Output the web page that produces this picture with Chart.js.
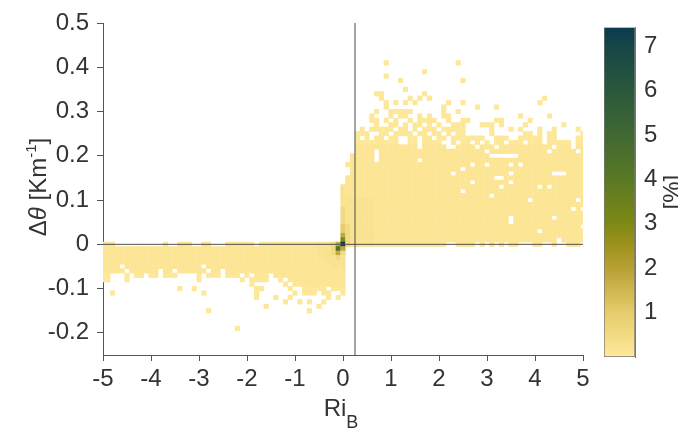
<!DOCTYPE html>
<html><head><meta charset="utf-8">
<script src="https://cdn.jsdelivr.net/npm/chart.js@4"></script>
<style>
html,body{margin:0;padding:0;background:#fff;}
#wrap{position:relative;width:678px;height:428px;overflow:hidden;}
#wrap canvas{position:absolute;left:0;top:0;}
</style></head><body>
<div id="wrap"><canvas id="main" width="678" height="428"></canvas><canvas id="cbar" width="678" height="428"></canvas></div>
<script>
// ---- data ----
const xTicks = [-5,-4,-3,-2,-1,0,1,2,3,4,5];
const yTicks = [-0.2,-0.1,0,0.1,0.2,0.3,0.4,0.5];
const cbarTicks = [1,2,3,4,5,6,7];
const cbarMax = 7.42;
const riCritical = 0.25;
// frequency [%] for each level digit used in the rows below
const levelValues = [0, 0.03, 0.1, 0.22, 0.5, 1.0, 1.8, 3.0, 4.5, 7.4];
// rows: [Δθ in 0.01 K/m, default level, runs of Ri_B in 0.1 units ("a..b" or "a", optional "@level")]
const upperRows = [
 [41,1,"9,24"],
 [39,1,"17"],
 [38,1,"9"],
 [37,1,"12,25"],
 [35,1,"13"],
 [34,1,"7..8,17"],
 [33,1,"8,14,16,18,42"],
 [32,1,"9,11,13,15,22,25,41"],
 [31,1,"9,21,28,32"],
 [30,1,"7,10..14,21,24"],
 [29,1,"6,10,12..13,16,18,21..22,37,43"],
 [28,1,"6..7,9,11,14,16..19,22,25..26,32..33,39"],
 [27,1,"7,10..11,13,15..16,18,20,23..25,29..31,33,38,46"],
 [26,1,"4,6..10,12..13,15,17..19,21..25,31,35,37,41,44,49"],
 [25,1,"3..5,8..9,11..14,16..17,19..20,22,24..25,31,38..39,41,43..44,50"],
 [24,1,"3,5,7..8,10..11,14..15,17..18,20..21,23..29,32..34,37..41,43..44,49..50"],
 [23,1,"3..11,14..15,17..20,23,25..26,28,30,32..33,35..37,39..41,43..47,49..50"],
 [22,2,"3..15,17..21,24..27,29..31,33..43,45..47,49..50"],
 [21,2,"3..6,8..29,31..42,44..48,50"],
 [20,2,"2..6,8..30,37..50"]
];
const positiveRows = [
 [19,2,"2..6,8..15,17..50"],
 [18,2,"1..26,28..29,31..34,36,38..50"],
 [17,2,"2..24,26..50"],
 [16,2,"2..22,24..34,36..43,47..50"],
 [15,2,"1..31,34..50"],
 [14,2,"1..26,28..34,36..50"],
 [13,2,"0@3,1..32,34..40,42,44..50"],
 [12,2,"0@3,1..24,26..50"],
 [11,2,"0@3,1..30,32..50"],
 [10,2,"0@3,1..6@3,7..38,40..48,50"],
 [9,2,"0@3,1..6@3,7..50"],
 [8,2,"0@4,1..6@3,7..47,49"],
 [7,2,"0@4,1..6@3,7..50"],
 [6,2,"0@4,1..6@3,7..34,36..43,45..50"],
 [5,2,"0@4,1..6@3,7..34,36..50"],
 [4,2,"0@5,1@4,2..6@3,7..49"],
 [3,2,"0@5,1@4,2..6@3,7..40,42..50"],
 [2,2,"0@6,1@4,2..6@3,7..50"],
 [1,2,"0@7,1@4,2..6@3,7..44,46..50"],
 [0,2,"-50..-48,-37,-34..-32,-29..-28,-24..-19,-17..-6,-5..-3@3,-2@4,-1@6,0@9,1@4,2..6@3,7..21,24..27,29,31,33,35..36,40..41,44,47..49"]
];
const negativeRows = [
 [-1,2,"-50..-6,-5..-3@3,-2@4,-1@8,0@6"],
 [-2,2,"-50..-6,-5..-3@3,-2@4,-1@6,0@4"],
 [-3,2,"-50..-5,-4..-2@3,-1@4,0@3"],
 [-4,2,"-50..-4,-3..0@3"],
 [-5,2,"-50..-47,-45..-30,-28..-3,-2..0@3"],
 [-6,2,"-50..-46,-44..-39,-37..-36,-34..-29,-27..-26,-24..0"],
 [-7,1,"-50..-49,-45,-43..-42,-40..-39,-37..-35,-30,-28..-26,-24..-22,-20,-18..-16,-14..0@2"],
 [-8,1,"-50..-49,-45,-30,-21,-19..-16,-13,-11..0@2"],
 [-9,1,"-19,-12,-10..0@2"],
 [-10,1,"-34,-31,-18..-17,-11,-8..-4,-2..0"],
 [-11,1,"-48,-29,-18,-10,-8..-6,-4..-3,0"],
 [-12,1,"-18,-14,-11,-3,-1"],
 [-13,1,"-12,-9,-7,-4"],
 [-14,1,"-16,-5"],
 [-15,1,"-28,-7"],
 [-19,1,"-22"]
];
// colour map of the colour bar: [value %, rgb]
const cmapStops = [[0,[254,232,154]],[1,[230,204,108]],[2,[184,160,52]],[2.5,[158,146,28]],[3,[126,137,20]],[4,[90,121,36]],[5,[64,104,50]],[6,[42,88,60]],[7,[22,70,70]],[7.42,[10,58,78]]];

// ---- helpers ----
const ink = '#333333';
const axisColor = '#555555';
const fontFam = '"Liberation Sans", Arial, Helvetica, sans-serif';
const tickFont = {family: fontFam, size: 24};

function parseRows(rows){
  const pts = [];
  rows.forEach(([r, lvl, runs]) => {
    runs.split(',').forEach(tok => {
      const [span, l] = tok.trim().split('@');
      const level = l ? +l : lvl;
      const ab = span.includes('..') ? span.split('..').map(Number) : [+span, +span];
      for (let t = ab[0]; t <= ab[1]; t++) pts.push({x: t/10, y: r/100, v: levelValues[level]});
    });
  });
  return pts;
}
const cells = [].concat(parseRows(upperRows), parseRows(positiveRows), parseRows(negativeRows));

function cmap(v){
  for (let i = 1; i < cmapStops.length; i++){
    const [v1, c1] = cmapStops[i], [v0, c0] = cmapStops[i-1];
    if (v <= v1 || i === cmapStops.length - 1){
      const f = Math.max(0, Math.min(1, (v - v0)/(v1 - v0)));
      return 'rgb(' + c0.map((c, k) => Math.round(c + (c1[k]-c)*f)).join(',') + ')';
    }
  }
}
function drawRich(ctx, segs, x, y, rot){
  ctx.save(); ctx.translate(x, y); ctx.rotate(rot);
  let w = 0;
  segs.forEach(s => { ctx.font = s.font; s.w = ctx.measureText(s.t).width; w += s.w; });
  let cx = -w/2; ctx.fillStyle = ink; ctx.textBaseline = 'alphabetic'; ctx.textAlign = 'left';
  segs.forEach(s => { ctx.font = s.font; ctx.fillText(s.t, cx, s.dy || 0); cx += s.w; });
  ctx.restore();
}
const titlePlugin = {
  id: 'titles',
  afterDraw(chart){
    const ctx = chart.ctx, a = chart.chartArea;
    const f = 'px ' + fontFam;
    drawRich(ctx, [
      {t: 'Δ', font: '24' + f},
      {t: 'θ', font: 'italic 24' + f},
      {t: ' [Km', font: '24' + f},
      {t: '-1', font: '15' + f, dy: -10},
      {t: ']', font: '24' + f}
    ], 46, (a.top + a.bottom)/2 - 2, -Math.PI/2);
    drawRich(ctx, [
      {t: 'Ri', font: '24' + f},
      {t: 'B', font: '18' + f, dy: 12}
    ], 341, 416, 0);
  }
};

new Chart(document.getElementById('main'), {
  type: 'scatter',
  data: {datasets: [
    {label: 'zero', data: [{x: -5, y: 0}, {x: 5, y: 0}], showLine: true, borderColor: '#4d4d4d', borderWidth: 1, pointRadius: 0, clip: 0},
    {label: 'Ri_c', data: [{x: riCritical, y: -0.25}, {x: riCritical, y: 0.5}], showLine: true, borderColor: '#4d4d4d', borderWidth: 1, pointRadius: 0, clip: 0},
    {label: 'freq', data: cells, pointStyle: 'rect', borderWidth: 0, clip: 0,
     pointRadius: c => {
       const xs = c.chart.scales.x, ys = c.chart.scales.y;
       const w = Math.abs(xs.getPixelForValue(0.1) - xs.getPixelForValue(0));
       const h = Math.abs(ys.getPixelForValue(0.01) - ys.getPixelForValue(0));
       return (Math.max(w, h) + 0.3) / Math.SQRT2;
     },
     backgroundColor: c => cmap(c.raw ? c.raw.v : 0)}
  ]},
  options: {
    responsive: false, animation: false, events: [],
    layout: {padding: {left: 0, right: 95, top: 23, bottom: 0}},
    plugins: {legend: {display: false}, tooltip: {enabled: false}},
    scales: {
      x: {type: 'linear', min: -5, max: 5,
        afterBuildTicks: s => { s.ticks = xTicks.map(v => ({value: v})); },
        afterFit: s => { s.height = 73; },
        ticks: {font: tickFont, color: ink, padding: 4, maxRotation: 0, autoSkip: false, callback: v => String(v)},
        grid: {drawOnChartArea: false, drawTicks: true, tickLength: 6, color: axisColor, lineWidth: 1},
        border: {display: true, color: axisColor, width: 1}},
      y: {type: 'linear', min: -0.25, max: 0.5,
        afterBuildTicks: s => { s.ticks = yTicks.map(v => ({value: v})); },
        afterFit: s => { s.width = 103; },
        ticks: {font: tickFont, color: ink, padding: 8, autoSkip: false, callback: v => String(Math.round(v*10)/10)},
        grid: {drawOnChartArea: false, drawTicks: true, tickLength: 6, color: axisColor, lineWidth: 1},
        border: {display: true, color: axisColor, width: 1}}
    }
  },
  plugins: [titlePlugin]
});

const cbarTitle = {
  id: 'cbarTitle',
  afterDraw(chart){
    const a = chart.chartArea;
    drawRich(chart.ctx, [{t: '[%]', font: '24px ' + fontFam}], 680, (a.top + a.bottom)/2, -Math.PI/2);
  }
};
new Chart(document.getElementById('cbar'), {
  type: 'bar',
  data: {labels: ['%'], datasets: [{data: [cbarMax], borderColor: '#777777', borderWidth: 1, borderSkipped: false,
    categoryPercentage: 1, barPercentage: 1,
    backgroundColor: c => {
      const ch = c.chart, ys = ch.scales.y;
      if (!ys || !ch.chartArea) return cmap(1);
      const g = ch.ctx.createLinearGradient(0, ys.getPixelForValue(0), 0, ys.getPixelForValue(cbarMax));
      cmapStops.forEach(([v, rgb]) => g.addColorStop(v / cbarMax, 'rgb(' + rgb.join(',') + ')'));
      return g;
    }}]},
  options: {
    responsive: false, animation: false, events: [],
    layout: {padding: {left: 604, right: 0, top: 21, bottom: 71}},
    plugins: {legend: {display: false}, tooltip: {enabled: false}},
    scales: {
      x: {display: false},
      y: {position: 'right', min: 0, max: cbarMax,
        afterBuildTicks: s => { s.ticks = cbarTicks.map(v => ({value: v})); },
        afterFit: s => { s.width = 43; },
        ticks: {font: tickFont, color: ink, padding: 13},
        grid: {drawOnChartArea: false, drawTicks: true, tickLength: -4, color: '#555555'},
        border: {display: true, color: '#777777'}}
    }
  },
  plugins: [cbarTitle]
});
</script>
</body></html>
